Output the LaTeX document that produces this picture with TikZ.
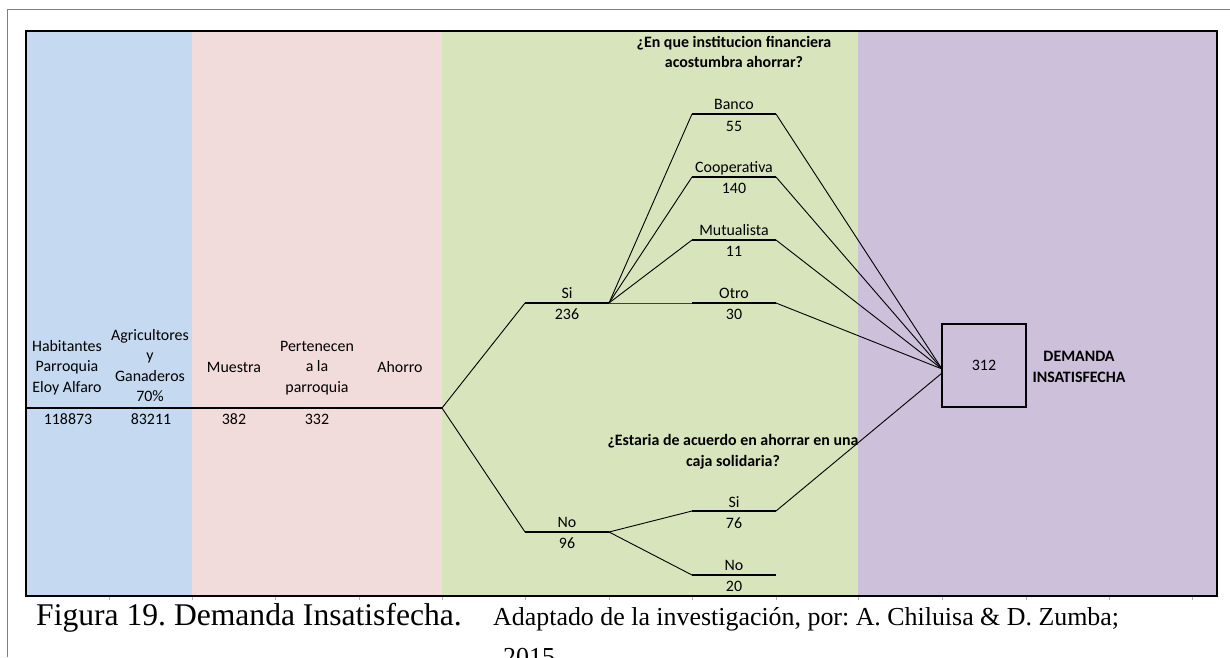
\documentclass[tikz,border=0pt]{standalone}
\usepackage{fontspec}
\setmainfont{Liberation Serif}
\newfontfamily\carlito{Carlito}
\frenchspacing
\definecolor{cblue}{HTML}{C5D9F1}
\definecolor{cpink}{HTML}{F2DCDB}
\definecolor{cgreen}{HTML}{D8E4BC}
\definecolor{cpurple}{HTML}{CCC0DA}
\definecolor{cgrey}{HTML}{7F7F7F}
\tikzset{
  lbl/.style={inner sep=0pt, anchor=base, font=\carlito\fontsize{15.9}{20.5}\selectfont},
  mlbl/.style={inner sep=0pt, anchor=north, align=center, font=\carlito\fontsize{15.9}{20.5}\selectfont},
  qlbl/.style={lbl, font=\carlito\bfseries\fontsize{15.9}{20.5}\selectfont},
  bar/.style={line width=2pt, black},
  link/.style={line width=0.9pt, black},
  capbig/.style={inner sep=0pt, anchor=base west, font=\fontsize{31.6}{40}\selectfont},
  capsmall/.style={inner sep=0pt, anchor=base west, font=\fontsize{25.9}{40}\selectfont},
}
\begin{document}
\begin{tikzpicture}[x=1pt,y=-1pt]
\useasboundingbox (0,0) rectangle (1230,657);
% outer grey frame
\draw[cgrey, line width=1pt] (7,657) -- (7,9.5) -- (1230,9.5);
% column backgrounds
\fill[cblue] (26,31) rectangle (192,596);
\fill[cpink] (192,31) rectangle (442,596);
\fill[cgreen] (442,31) rectangle (858,596);
\fill[cpurple] (858,31) rectangle (1217,596);
% grid ticks below frame
\foreach \x in {109,192,275,359,442,525,609,692,776,858,942,1026,1109,1192}
  \draw[gray!60, line width=0.8pt] (\x,597) -- (\x,600);
% frame
\draw[line width=2.8pt] (26,31) rectangle (1217,596);

% left headers
\node[mlbl] (hab) at (67,351-14.35) {\strut Habitantes\\Parroquia\\Eloy Alfaro};
\node[mlbl] (agr) at (150,340-14.35) {\strut Agricultores\\y\\Ganaderos\\70\%};
\node[lbl] (mue) at (234,372) {Muestra};
\node[mlbl] (per) at (317,351-14.35) {\strut Pertenecen\\a la\\parroquia};
\node[lbl] (aho) at (400,372) {Ahorro};
% values
\node[lbl] (v1) at (68,424) {118873};
\node[lbl] (v2) at (151,424) {83211};
\node[lbl] (v3) at (234,424) {382};
\node[lbl] (v4) at (317,424) {332};

% main line and branch point
\coordinate (mL) at (26,408);
\coordinate (mR) at (442,408);
\draw[bar] (mL) -- (mR);

% Si / No bars
\coordinate (siL) at (525,303); \coordinate (siR) at (609,303);
\coordinate (noL) at (525,532); \coordinate (noR) at (609,532);
\draw[bar] (siL) -- (siR);
\draw[bar] (noL) -- (noR);
\draw[link] (mR) -- (siL);
\draw[link] (mR) -- (noL);
\node[lbl] (siT) at (567,298.5) {Si};
\node[lbl] (siN) at (567,319) {236};
\node[lbl] (noT) at (567,527.5) {No};
\node[lbl] (noN) at (567,548.5) {96};

% question 1
\node[qlbl] (q1a) at (734,47) {¿En que institucion financiera};
\node[qlbl] (q1b) at (734,67.5) {acostumbra ahorrar?};

% institution bars
\coordinate (baL) at (692,114); \coordinate (baR) at (776,114);
\coordinate (coL) at (692,177); \coordinate (coR) at (776,177);
\coordinate (muL) at (692,240); \coordinate (muR) at (776,240);
\coordinate (otL) at (692,303); \coordinate (otR) at (776,303);
\draw[bar] (baL) -- (baR);
\draw[bar] (coL) -- (coR);
\draw[bar] (muL) -- (muR);
\draw[bar] (otL) -- (otR);
\node[lbl] (baT) at (734,109.5) {Banco};
\node[lbl] (baN) at (734,131) {55};
\node[lbl] (coT) at (734,172.5) {Cooperativa};
\node[lbl] (coN) at (734,193) {140};
\node[lbl] (muT) at (734,235) {Mutualista};
\node[lbl] (muN) at (734,256) {11};
\node[lbl] (otT) at (734,298.5) {Otro};
\node[lbl] (otN) at (734,319) {30};
\draw[link] (siR) -- (baL);
\draw[link] (siR) -- (coL);
\draw[link] (siR) -- (muL);
\draw[link, black!75] (siR) -- (otL);

% question 2
\node[qlbl] (q2a) at (733,445) {¿Estaria de acuerdo en ahorrar en una};
\node[qlbl] (q2b) at (733,466) {caja solidaria?};
\coordinate (s2L) at (692,511); \coordinate (s2R) at (776,511);
\coordinate (n2L) at (692,575); \coordinate (n2R) at (776,575);
\draw[bar] (s2L) -- (s2R);
\draw[bar] (n2L) -- (n2R);
\node[lbl] (s2T) at (734,507) {Si};
\node[lbl] (s2N) at (734,528) {76};
\node[lbl] (n2T) at (734,570.5) {No};
\node[lbl] (n2N) at (734,591) {20};
\draw[link] (noR) -- (s2L);
\draw[link] (noR) -- (n2L);

% result box
\node[draw, line width=2pt, minimum width=84pt, minimum height=83pt, inner sep=0pt,
      font=\carlito\fontsize{15.9}{20.5}\selectfont] (box) at (984,365.5) {312};
\coordinate (in1) at (942,369);
\coordinate (in2) at (942,373);
\draw[link] (baR) -- (in1);
\draw[link] (coR) -- (in1);
\draw[link] (muR) -- (in1);
\draw[link] (otR) -- (in1);
\draw[link] (s2R) -- (in2);
\node[qlbl] (dem1) at (1079,361) {DEMANDA};
\node[qlbl] (dem2) at (1079,382) {INSATISFECHA};

% caption
\node[capbig] (cap1) at (36,625) {Figura 19. Demanda Insatisfecha.};
\node[capsmall] (cap2) at (493,625) {Adaptado de la investigación, por: A. Chiluisa \& D. Zumba;};
\node[capsmall] (cap3) at (503,665) {2015.};
\end{tikzpicture}
\end{document}
